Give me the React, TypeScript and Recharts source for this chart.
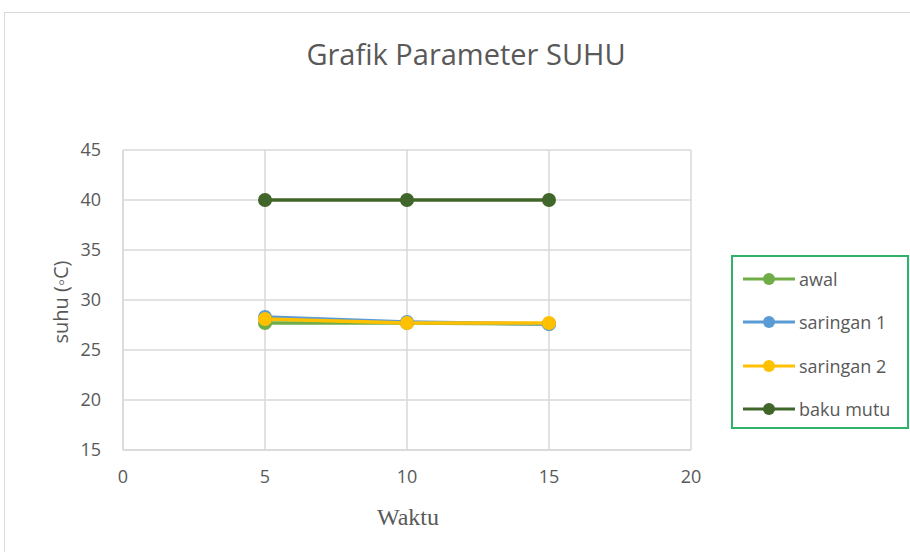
import React from 'react';
import { LineChart, Line, XAxis, YAxis, CartesianGrid } from 'recharts';

const waktu = [5, 10, 15];
const awal = [27.7, 27.7, 27.6];
const saringan1 = [28.3, 27.8, 27.6];
const saringan2 = [28.1, 27.7, 27.7];
const bakuMutu = [40, 40, 40];
const xTicks = [0, 5, 10, 15, 20];
const yTicks = [15, 20, 25, 30, 35, 40, 45];

const series = [
  { key: 'awal', color: '#70ad47' },
  { key: 'saringan 1', color: '#5b9bd5' },
  { key: 'saringan 2', color: '#ffc000' },
  { key: 'baku mutu', color: '#416629' },
];

const data = waktu.map((w, i) => ({
  waktu: w,
  awal: awal[i],
  'saringan 1': saringan1[i],
  'saringan 2': saringan2[i],
  'baku mutu': bakuMutu[i],
}));

const font = '"Open Sans", "Noto Sans", sans-serif';
const grey = '#595959';

const LegendBox = () => (
  <div
    style={{
      position: 'absolute',
      left: 731,
      top: 255,
      border: '2px solid #2fb36a',
      width: 178,
      height: 174,
      boxSizing: 'border-box',
      padding: '0 0 0 10px',
      background: '#fff',
    }}
  >
    {series.map((s) => (
      <div key={s.key} style={{ display: 'flex', alignItems: 'center', height: 43.5 }}>
        <svg width={54} height={16}>
          <line x1={0} y1={8} x2={52} y2={8} stroke={s.color} strokeWidth={3} />
          <circle cx={26} cy={8} r={6} fill={s.color} />
        </svg>
        <span style={{ fontFamily: font, fontSize: 18, color: grey, marginLeft: 2 }}>{s.key}</span>
      </div>
    ))}
  </div>
);

export default function App() {
  return (
    <div style={{ position: 'absolute', left: 0, top: 0, width: 910, height: 552, background: '#fff', overflow: 'hidden' }}>
      <div
        style={{
          position: 'absolute',
          left: 4,
          top: 12,
          width: 920,
          height: 560,
          border: '1px solid #d9d9d9',
        }}
      />
      <div
        style={{
          position: 'absolute',
          left: 0,
          top: 34,
          width: 932,
          textAlign: 'center',
          fontFamily: font,
          fontSize: 29,
          color: grey,
        }}
      >
        Grafik Parameter SUHU
      </div>
      <div
        style={{
          position: 'absolute',
          left: 60,
          top: 302,
          transform: 'translate(-50%, -50%) rotate(-90deg)',
          fontFamily: font,
          fontSize: 20,
          color: grey,
          whiteSpace: 'nowrap',
        }}
      >
        suhu (◦C)
      </div>
      <div
        style={{
          position: 'absolute',
          left: 408,
          top: 517,
          transform: 'translate(-50%, -50%)',
          fontFamily: '"Liberation Serif", serif',
          fontSize: 24,
          color: grey,
        }}
      >
        Waktu
      </div>
      <LineChart
        width={910}
        height={552}
        data={data}
        margin={{ top: 150, right: 219, left: 30, bottom: 0 }}
        style={{ position: 'absolute', left: 0, top: 0 }}
      >
        <CartesianGrid stroke="#d9d9d9" strokeWidth={1.5} />
        <XAxis
          dataKey="waktu"
          type="number"
          domain={[0, 20]}
          ticks={xTicks}
          interval={0}
          height={102}
          axisLine={{ stroke: '#d9d9d9', strokeWidth: 1.5 }}
          tickLine={false}
          tickSize={0}
          tickMargin={20}
          tick={{ fill: grey, fontSize: 18, fontFamily: font }}
        />
        <YAxis
          type="number"
          domain={[15, 45]}
          ticks={yTicks}
          interval={0}
          width={93}
          axisLine={{ stroke: '#d9d9d9', strokeWidth: 1.5 }}
          tickLine={false}
          tickSize={0}
          tickMargin={22}
          tick={{ fill: grey, fontSize: 18, fontFamily: font }}
        />
        {series.map((s) => (
          <Line
            key={s.key}
            dataKey={s.key}
            stroke={s.color}
            strokeWidth={3.5}
            dot={{ r: 7, fill: s.color, stroke: s.color, strokeWidth: 0 }}
            activeDot={false}
            isAnimationActive={false}
          />
        ))}
      </LineChart>
      <LegendBox />
    </div>
  );
}
